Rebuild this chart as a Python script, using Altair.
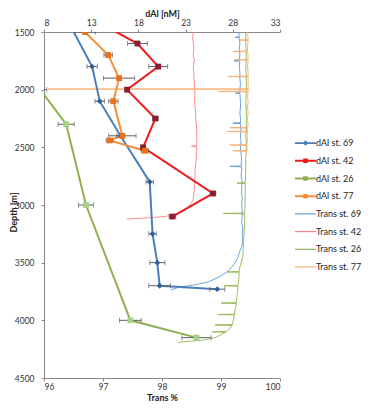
import altair as alt
import pandas as pd

# ---------------- dAl (top axis, nM) ----------------
dal69_depth = [1400, 1800, 2100, 2400, 2800, 3250, 3500, 3700, 3730]
dal69_val = [10.5, 13.1, 13.9, 16.1, 19.2, 19.5, 20.0, 20.25, 26.35]
dal69_err = [0.0, 0.55, 0.5, 0.4, 0.4, 0.4, 0.8, 1.15, 0.8]

dal42_depth = [1400, 1600, 1800, 2000, 2250, 2500, 2900, 3100]
dal42_val = [13.4, 17.9, 20.1, 16.8, 19.8, 18.5, 25.9, 21.6]
dal42_err = [0.0, 1.05, 1.0, 0.15, 0.3, 0.2, 0.3, 0.35]

dal26_depth = [2000, 2300, 3000, 4000, 4150]
dal26_val = [7.6, 10.35, 12.45, 17.15, 24.15]
dal26_err = [0.7, 0.85, 0.8, 1.15, 1.55]

dal77_depth = [1500, 1700, 1900, 2100, 2400, 2440, 2530]
dal77_val = [12.35, 14.8, 15.95, 15.35, 16.3, 14.95, 18.7]
dal77_err = [1.1, 0.45, 1.65, 0.5, 1.45, 0.35, 0.4]

# ---------------- Transmission (bottom axis, %) ----------------
t69_depth = [1500, 1541, 1545, 1549, 1600, 1650, 1700, 1746, 1750, 1754, 1800, 1850, 1900, 1950, 2000,
             2026, 2030, 2034, 2100, 2150, 2200, 2250, 2286, 2290, 2294, 2350, 2400, 2450, 2500, 2550,
             2600, 2661, 2665, 2669, 2700, 2750, 2800, 2850, 2900, 2950, 3000, 3050, 3100, 3150, 3200,
             3250, 3300, 3350, 3400, 3450, 3500, 3540, 3580, 3620, 3650, 3670, 3695, 3710, 3725, 3735]
t69_val = [99.30, 99.31, 99.24, 99.31, 99.32, 99.31, 99.32, 99.31, 99.22, 99.32, 99.31, 99.32, 99.32, 99.33, 99.32,
           99.32, 99.24, 99.32, 99.33, 99.33, 99.32, 99.33, 99.33, 99.20, 99.33, 99.34, 99.33, 99.34, 99.33, 99.34,
           99.35, 99.34, 99.15, 99.35, 99.35, 99.34, 99.36, 99.35, 99.35, 99.36, 99.35, 99.36, 99.36, 99.35, 99.37,
           99.36, 99.37, 99.36, 99.32, 99.29, 99.24, 99.18, 99.10, 98.98, 98.86, 98.76, 98.53, 98.31, 98.22, 98.15]

t42_depth = [1500, 1550, 1600, 1650, 1700, 1750, 1800, 1850, 1900, 1950, 2000, 2050, 2100, 2150, 2200,
             2250, 2300, 2350, 2400, 2450, 2486, 2490, 2494, 2550, 2600, 2650, 2700, 2750, 2800, 2850,
             2900, 2950, 2980, 3020, 3050, 3080, 3100, 3110, 3122]
t42_val = [98.53, 98.52, 98.53, 98.54, 98.53, 98.55, 98.53, 98.54, 98.54, 98.55, 98.55, 98.56, 98.55, 98.56, 98.57,
           98.57, 98.58, 98.59, 98.59, 98.59, 98.59, 98.50, 98.59, 98.58, 98.58, 98.57, 98.56, 98.56, 98.55, 98.55,
           98.54, 98.53, 98.50, 98.44, 98.38, 98.22, 98.05, 97.80, 97.40]

t26_depth = [1500, 1600, 1700, 1800, 1900, 2000, 2100, 2200, 2300, 2400, 2500, 2600, 2700, 2806, 2810,
             2814, 2900, 3000, 3069, 3073, 3077, 3150, 3250, 3350, 3450, 3536, 3576, 3580, 3584, 3650,
             3696, 3700, 3704, 3760, 3797, 3846, 3850, 3854, 3900, 3946, 3950, 3954, 4000, 4036, 4040,
             4044, 4086, 4096, 4100, 4104, 4129, 4150, 4158, 4166, 4173, 4180, 4187, 4195]
t26_val = [99.42, 99.42, 99.43, 99.42, 99.43, 99.43, 99.42, 99.43, 99.43, 99.42, 99.43, 99.42, 99.42, 99.41, 99.27,
           99.41, 99.41, 99.41, 99.40, 99.04, 99.40, 99.40, 99.39, 99.38, 99.37, 99.32, 99.31, 99.10, 99.31, 99.30,
           99.29, 99.05, 99.29, 99.28, 99.27, 99.26, 99.00, 99.26, 99.24, 99.23, 98.95, 99.23, 99.21, 99.19, 98.90,
           99.19, 99.12, 99.09, 98.85, 99.08, 98.98, 98.90, 98.84, 98.75, 98.67, 98.50, 98.33, 98.28]

t77_depth = [1500, 1550, 1566, 1570, 1574, 1620, 1664, 1668, 1672, 1700, 1736, 1740, 1744, 1800, 1850,
             1882, 1886, 1890, 1940, 1993, 1995, 1997, 2012, 2016, 2020, 2060, 2100, 2150, 2200, 2250,
             2300, 2326, 2330, 2334, 2359, 2363, 2367, 2400, 2440, 2476, 2480, 2484, 2500, 2526, 2530,
             2534, 2555]
t77_val = [99.45, 99.46, 99.46, 99.30, 99.46, 99.45, 99.45, 99.21, 99.45, 99.46, 99.46, 99.23, 99.46, 99.45, 99.46,
           99.46, 99.12, 99.46, 99.46, 99.46, 96.07, 99.46, 99.46, 98.95, 99.46, 99.45, 99.46, 99.45, 99.46, 99.45,
           99.46, 99.45, 99.15, 99.45, 99.45, 99.10, 99.45, 99.44, 99.45, 99.44, 99.15, 99.44, 99.44, 99.44, 99.20,
           99.44, 99.43]

# ---------------- names / ticks / styling ----------------
dal_names = ["dAl st. 69", "dAl st. 42", "dAl st. 26", "dAl st. 77"]
trans_names = ["Trans st. 69", "Trans st. 42", "Trans st. 26", "Trans st. 77"]
all_names = dal_names + trans_names

dal_line_colors = ["#4a7ebb", "#ee1c1c", "#8fb04f", "#f68e3a"]
dal_marker_colors = ["#2f5f9c", "#8c1b2f", "#a8d08a", "#e8711a"]
trans_colors = ["#5b9bd5", "#ff7f84", "#93b452", "#f9ad6e"]

dal_ticks = [8, 13, 18, 23, 28, 33]
trans_ticks = [96, 97, 98, 99, 100]
depth_ticks = [1500, 2000, 2500, 3000, 3500, 4000, 4500]

FONT = "Lato"

# ---------------- tables ----------------
def prof(name, depths, vals, errs=None):
    d = pd.DataFrame({"series": name, "depth": depths, "v": vals, "i": list(range(len(depths)))})
    if errs is not None:
        d["lo"] = [a - e for a, e in zip(vals, errs)]
        d["hi"] = [a + e for a, e in zip(vals, errs)]
        d["err"] = errs
    return d

dal_df = pd.concat([
    prof(dal_names[0], dal69_depth, dal69_val, dal69_err),
    prof(dal_names[1], dal42_depth, dal42_val, dal42_err),
    prof(dal_names[2], dal26_depth, dal26_val, dal26_err),
    prof(dal_names[3], dal77_depth, dal77_val, dal77_err),
], ignore_index=True)

trans_df = pd.concat([
    prof(trans_names[0], t69_depth, t69_val),
    prof(trans_names[1], t42_depth, t42_val),
    prof(trans_names[2], t26_depth, t26_val),
    prof(trans_names[3], t77_depth, t77_val),
], ignore_index=True)

legend_df = pd.DataFrame({"lseries": all_names})

# ---------------- scales / axes ----------------
y_scale = alt.Scale(domain=[1500, 4500], reverse=True, nice=False, zero=False)
dal_x_scale = alt.Scale(domain=[8, 33], nice=False, zero=False)
tr_x_scale = alt.Scale(domain=[96, 100], nice=False, zero=False)

y_axis = alt.Axis(values=depth_ticks, format="d", title="Depth [m]", orient="left",
                  labelPadding=7, titleX=-31, titleY=180, titleAngle=-90, titleAlign="center",
                  titleBaseline="middle")
dal_axis = alt.Axis(values=dal_ticks, orient="top", title="dAl [nM]", labelBaseline="middle",
                    labelPadding=7, titleX=118, titleY=-18.5, titleBaseline="middle", titleAlign="center")
tr_axis = alt.Axis(values=trans_ticks, orient="bottom", title="Trans %", labelBaseline="middle",
                   labelPadding=5, titleX=118, titleY=19.5, titleBaseline="middle", titleAlign="center")

def Y():
    return alt.Y("depth:Q", scale=y_scale, axis=y_axis, title="Depth [m]")

def XD(field):
    return alt.X(field, scale=dal_x_scale, axis=dal_axis, title="dAl [nM]")

# ---------------- transmission layer ----------------
trans_lines = alt.Chart(trans_df).mark_line(strokeWidth=0.9, clip=True).encode(
    x=alt.X("v:Q", scale=tr_x_scale, axis=tr_axis, title="Trans %"),
    y=Y(),
    color=alt.Color("series:N", scale=alt.Scale(domain=trans_names, range=trans_colors), legend=None),
    detail="series:N",
    order="i:Q",
)

# ---------------- dAl layer ----------------
dal_lines = alt.Chart(dal_df).mark_line(strokeWidth=2, clip=True).encode(
    x=XD("v:Q"),
    y=Y(),
    color=alt.Color("series:N", scale=alt.Scale(domain=dal_names, range=dal_line_colors), legend=None),
    detail="series:N",
    order="i:Q",
)

err_base = alt.Chart(dal_df).transform_filter("datum.err > 0")
err_rules = err_base.mark_rule(color="#5f5f5f", strokeWidth=1, clip=True).encode(
    x=XD("lo:Q"), x2="hi:Q", y=Y())
err_caps = err_base.transform_fold(["lo", "hi"], as_=["side", "xv"]).mark_tick(
    orient="vertical", color="#5f5f5f", size=5, thickness=1, clip=True).encode(
    x=XD("xv:Q"), y=Y())

dal_points = alt.Chart(dal_df).mark_point(filled=True, opacity=1, clip=True, strokeWidth=0).encode(
    x=XD("v:Q"),
    y=Y(),
    fill=alt.Fill("series:N", scale=alt.Scale(domain=dal_names, range=dal_marker_colors), legend=None),
    shape=alt.Shape("series:N", scale=alt.Scale(domain=dal_names,
                    range=["diamond", "square", "square", "square"]), legend=None),
    size=alt.value(34),
)

dal_layer = alt.layer(dal_lines, err_rules, err_caps, dal_points)

# ---------------- legend-only layer ----------------
thick = "M-1,-0.09L1,-0.09L1,0.09L-1,0.09Z"
thin = "M-1,-0.055L1,-0.055L1,0.055L-1,0.055Z"
diamond = "M0,-0.26L0.26,0L0,0.26L-0.26,0Z"
square = "M-0.22,-0.22L0.22,-0.22L0.22,0.22L-0.22,0.22Z"
legend_shapes = [thick + diamond, thick + square, thick + square, thick + square, thin, thin, thin, thin]

leg = alt.Legend(title=None, orient="none", legendX=251, legendY=100.6, padding=0,
                 symbolSize=441, symbolStrokeWidth=0, labelOffset=0, rowPadding=1.7,
                 labelFont=FONT, labelFontSize=9, labelColor="#222222")

legend_layer = alt.Chart(legend_df).transform_filter("false").mark_point(filled=True, opacity=1).encode(
    fill=alt.Fill("lseries:N", scale=alt.Scale(domain=all_names,
                  range=dal_line_colors + trans_colors), legend=leg),
    shape=alt.Shape("lseries:N", scale=alt.Scale(domain=all_names, range=legend_shapes), legend=leg),
)

chart = alt.layer(trans_lines, dal_layer, legend_layer).resolve_scale(
    x="independent", color="independent", fill="independent", shape="independent"
).properties(
    width=236, height=346,
    padding={"left": 36, "top": 24, "right": 82, "bottom": 25},
    autosize=alt.AutoSizeParams(type="none"),
    background="white",
).configure_view(stroke=None).configure_axis(
    domainColor="#8a8a8a", tickColor="#8a8a8a", tickSize=3, grid=False,
    labelFont=FONT, labelFontSize=8.5, labelColor="#333333",
    titleFont=FONT, titleFontSize=9, titleFontWeight="bold", titleColor="#222222",
)

chart.save("out.html", embed_options={"renderer": "svg", "actions": False})
